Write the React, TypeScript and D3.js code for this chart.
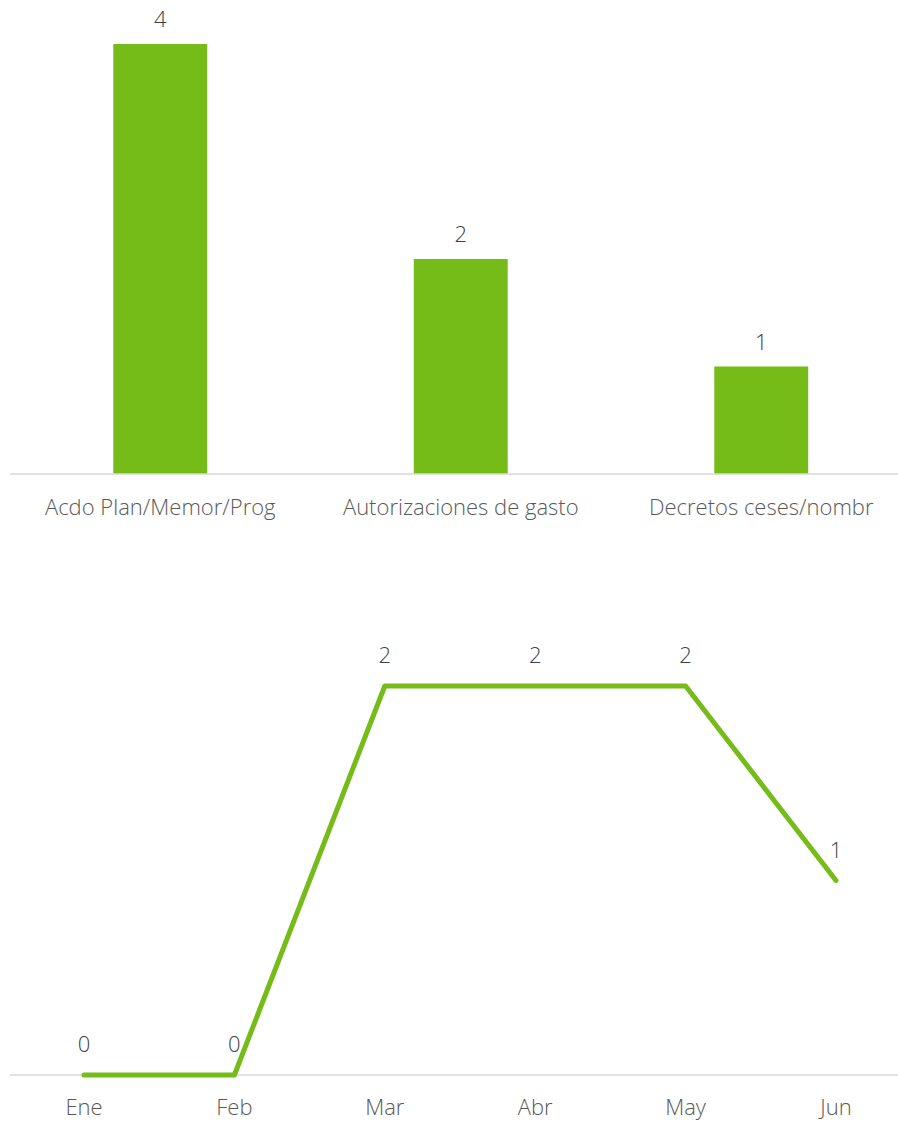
import React from "react";
import * as d3 from "d3";

const barCategories = ["Acdo Plan/Memor/Prog", "Autorizaciones de gasto", "Decretos ceses/nombr"];
const barValues = [4, 2, 1];

const months = ["Ene", "Feb", "Mar", "Abr", "May", "Jun"];
const monthValues = [0, 0, 2, 2, 2, 1];

const GREEN = "#76bc19";
const AXIS = "#d9d9d9";
const LABEL = "#595959";
const VALUE = "#404040";
const FONT = "'Open Sans', sans-serif";
const FS = 22;

export default function App() {
  const W = 898, H = 1124;

  // Bar chart
  const bx = d3.scaleBand<string>().domain(barCategories).range([10, 911.5]).paddingInner(0.6875).paddingOuter(0.34375);
  const by = d3.scaleLinear().domain([0, 4]).range([474, 44]);

  // Line chart
  const lx = d3.scalePoint<string>().domain(months).range([84, 836]);
  const ly = d3.scaleLinear().domain([0, 2]).range([1075, 686]);
  const line = d3.line<number>().x((_, i) => lx(months[i])!).y((d) => ly(d));

  return (
    <svg width={W} height={H} style={{ position: "absolute", left: 0, top: 0 }} fontFamily={FONT}>
      <rect width={W} height={H} fill="#fff" />
      {barCategories.map((c, i) => (
        <g key={c}>
          <rect x={bx(c)} y={by(barValues[i])} width={bx.bandwidth()} height={by(0) - by(barValues[i])} fill={GREEN} />
          <text x={bx(c)! + bx.bandwidth() / 2} y={by(barValues[i]) - 17} textAnchor="middle" fontSize={FS} fill={VALUE} fontWeight={300}>
            {barValues[i]}
          </text>
          <text x={bx(c)! + bx.bandwidth() / 2} y={515} textAnchor="middle" fontSize={FS} fill={LABEL} fontWeight={300}>
            {c}
          </text>
        </g>
      ))}
      <line x1={10} x2={W} y1={474} y2={474} stroke={AXIS} strokeWidth={1.5} />

      <line x1={10} x2={W} y1={1075} y2={1075} stroke={AXIS} strokeWidth={1.5} />
      <path d={line(monthValues)!} fill="none" stroke={GREEN} strokeWidth={5} strokeLinecap="round" strokeLinejoin="round" />
      {months.map((m, i) => (
        <g key={m}>
          <text x={lx(m)} y={ly(monthValues[i]) - 23} textAnchor="middle" fontSize={FS} fill={VALUE} fontWeight={300}>
            {monthValues[i]}
          </text>
          <text x={lx(m)} y={1115} textAnchor="middle" fontSize={FS} fill={LABEL} fontWeight={300}>
            {m}
          </text>
        </g>
      ))}
    </svg>
  );
}
